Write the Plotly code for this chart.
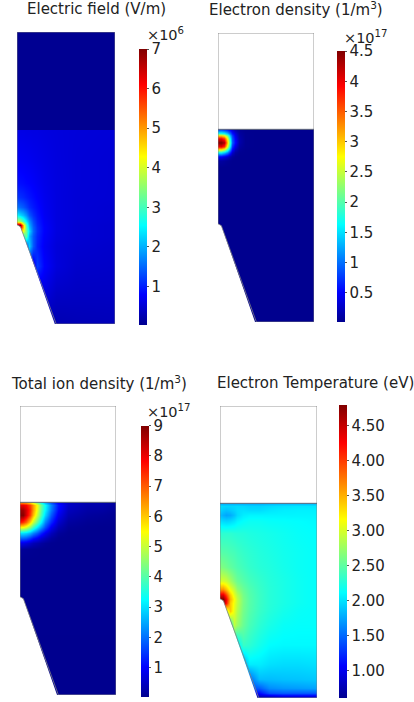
import plotly.graph_objects as go

W, H = 414, 702

titles = ["Electric field (V/m)", "Electron density (1/m<sup>3</sup>)",
          "Total ion density (1/m<sup>3</sup>)", "Electron Temperature (eV)"]
multipliers = ["×10<sup>6</sup>", "×10<sup>17</sup>", "×10<sup>17</sup>", ""]

# ---------- Electric field (x 1e6 V/m) ----------
e_x = [0, 3, 6, 9, 12, 16, 20, 28, 40, 60, 100]
e_y = [0, 30, 60, 80, 90, 96, 100, 102, 106, 112, 120, 130, 145, 170, 199.5, 200, 300]
e_z = [
    [.25, .25, .25, .25, .25, .25, .25, .25, .26, .30, .32],
    [.35, .35, .35, .35, .35, .35, .36, .55, .40, .38, .38],
    [.60, .60, .60, .60, .60, .60, 1.2, .80, .55, .44, .42],
    [2.0, 1.6, 1.4, 1.2, 2.2, 1.4, 1.0, .72, .54, .48, .44],
    [3.0, 3.0, 2.8, 3.2, 2.0, 1.4, 1.05, .76, .57, .50, .46],
    [4.5, 4.5, 4.2, 3.3, 2.3, 1.5, 1.1, .78, .58, .50, .46],
    [7.0, 6.5, 4.8, 3.2, 2.1, 1.45, 1.08, .78, .58, .50, .46],
    [7.0, 7.0, 4.8, 3.1, 2.0, 1.4, 1.05, .77, .58, .50, .46],
    [3.8, 3.6, 3.0, 2.4, 1.8, 1.3, 1.0, .75, .58, .51, .47],
    [2.5, 2.3, 2.1, 1.8, 1.4, 1.12, .93, .72, .58, .52, .48],
    [1.6, 1.5, 1.4, 1.25, 1.08, .95, .85, .70, .58, .52, .48],
    [1.15, 1.1, 1.05, .98, .92, .85, .78, .68, .58, .52, .50],
    [.88, .87, .85, .82, .80, .76, .72, .65, .58, .53, .50],
    [.72, .72, .71, .70, .69, .67, .65, .62, .57, .53, .50],
    [.62, .62, .62, .61, .61, .60, .60, .58, .56, .54, .52],
    [.05, .05, .05, .05, .05, .05, .05, .05, .05, .05, .05],
    [.05, .05, .05, .05, .05, .05, .05, .05, .05, .05, .05],
]
e_ticks = [1, 2, 3, 4, 5, 6, 7]
e_labels = ["1", "2", "3", "4", "5", "6", "7"]

# ---------- Electron density (x 1e17 1/m3) ----------
n_x = [0, 3, 6, 9, 12, 15, 18, 22, 28, 40, 100]
n_y = [0, 160, 168, 172, 176, 179, 182, 186, 191, 194, 196, 200]
n_z = [
    [.02, .02, .02, .02, .02, .02, .02, .02, .02, .02, .02],
    [.02, .02, .02, .02, .02, .02, .02, .02, .02, .02, .02],
    [.10, .10, .08, .05, .03, .02, .02, .02, .02, .02, .02],
    [.50, .50, .40, .30, .15, .08, .03, .02, .02, .02, .02],
    [1.6, 1.6, 1.4, 1.1, .65, .28, .10, .03, .02, .02, .02],
    [2.8, 2.8, 2.5, 1.9, 1.1, .55, .22, .06, .02, .02, .02],
    [3.9, 4.0, 3.7, 2.7, 1.5, .75, .38, .10, .03, .02, .02],
    [4.5, 4.5, 4.3, 3.1, 1.8, .95, .55, .15, .03, .02, .02],
    [4.0, 4.0, 3.7, 2.8, 1.6, .90, .50, .15, .03, .02, .02],
    [3.0, 3.0, 2.8, 2.2, 1.3, .80, .42, .12, .03, .02, .02],
    [1.8, 1.8, 1.7, 1.4, .95, .62, .35, .10, .03, .02, .02],
    [.80, .80, .70, .60, .45, .30, .15, .05, .02, .02, .02],
]
n_ticks = [0.5, 1, 1.5, 2, 2.5, 3, 3.5, 4, 4.5]
n_labels = ["0.5", "1", "1.5", "2", "2.5", "3", "3.5", "4", "4.5"]

# ---------- Total ion density (x 1e17 1/m3) ----------
i_x = [0, 3, 6, 10, 14, 18, 22, 26, 32, 40, 50, 70, 85, 100]
i_y = [0, 140, 152, 158, 163, 168, 175, 180, 187, 192, 197, 200]
i_z = [
    [.04, .04, .04, .04, .04, .04, .04, .04, .04, .04, .04, .04, .04, .04],
    [.05, .05, .05, .05, .05, .05, .05, .05, .05, .05, .05, .05, .05, .05],
    [.12, .12, .10, .08, .07, .06, .05, .05, .05, .05, .05, .05, .05, .05],
    [.80, .80, .70, .55, .40, .30, .20, .12, .06, .05, .05, .05, .05, .05],
    [1.9, 1.9, 1.8, 1.5, 1.2, .95, .65, .45, .20, .07, .05, .05, .05, .05],
    [3.0, 3.0, 2.9, 2.6, 2.2, 1.8, 1.3, .90, .45, .16, .06, .05, .05, .05],
    [5.6, 5.5, 5.2, 4.5, 3.8, 3.1, 2.4, 1.7, .90, .38, .12, .06, .05, .05],
    [7.7, 7.4, 6.9, 5.9, 5.0, 4.1, 3.2, 2.2, 1.35, .60, .20, .10, .08, .06],
    [9.0, 8.9, 8.2, 7.2, 6.1, 5.0, 3.9, 2.9, 1.8, .90, .35, .18, .14, .08],
    [8.8, 8.7, 8.2, 7.4, 6.4, 5.3, 4.1, 3.2, 2.1, 1.1, .45, .25, .22, .12],
    [8.0, 8.0, 7.8, 7.2, 6.4, 5.4, 4.2, 3.3, 2.2, 1.2, .55, .32, .30, .16],
    [6.2, 6.2, 6.0, 5.5, 4.9, 4.1, 3.2, 2.4, 1.6, .90, .45, .30, .28, .15],
]
i_ticks = [1, 2, 3, 4, 5, 6, 7, 8, 9]
i_labels = ["1", "2", "3", "4", "5", "6", "7", "8", "9"]

# ---------- Electron temperature (eV) ----------
t_x = [0, 3, 6, 10, 14, 18, 24, 30, 40, 50, 65, 80, 100]
t_y = [0, 2, 5, 10, 20, 35, 55, 75, 90, 98, 102, 106, 112, 120, 135, 150, 170, 182, 188, 193, 197, 200]
t_z = [
    [.70, .70, .70, .70, .70, .70, .70, .70, .70, .70, .70, .70, .70],
    [.85, .85, .85, .85, .85, .85, .85, .85, .85, .90, 1.0, 1.0, 1.0],
    [1.1, 1.1, 1.1, 1.1, 1.1, 1.1, 1.1, 1.1, 1.1, 1.4, 1.45, 1.45, 1.45],
    [1.4, 1.4, 1.4, 1.4, 1.4, 1.4, 1.4, 1.4, 1.45, 1.65, 1.7, 1.72, 1.75],
    [1.5, 1.5, 1.5, 1.5, 1.5, 1.5, 1.5, 1.5, 1.85, 1.85, 1.87, 1.88, 1.9],
    [1.7, 1.7, 1.7, 1.7, 1.7, 1.7, 1.7, 2.05, 2.05, 2.0, 1.98, 1.98, 2.0],
    [2.0, 2.0, 2.0, 2.0, 2.0, 2.0, 2.35, 2.3, 2.2, 2.12, 2.1, 2.1, 2.1],
    [2.2, 2.2, 2.2, 2.2, 2.9, 2.75, 2.55, 2.42, 2.3, 2.22, 2.15, 2.13, 2.13],
    [2.9, 2.9, 2.9, 3.4, 3.05, 2.85, 2.6, 2.47, 2.35, 2.27, 2.2, 2.15, 2.13],
    [4.2, 4.7, 4.2, 3.4, 3.1, 2.9, 2.62, 2.48, 2.36, 2.28, 2.22, 2.17, 2.13],
    [4.8, 4.8, 4.3, 3.5, 3.15, 2.9, 2.62, 2.48, 2.36, 2.28, 2.22, 2.17, 2.13],
    [4.4, 4.4, 4.0, 3.4, 3.05, 2.85, 2.6, 2.47, 2.36, 2.28, 2.22, 2.17, 2.13],
    [3.6, 3.6, 3.4, 3.1, 2.9, 2.7, 2.55, 2.45, 2.35, 2.28, 2.22, 2.17, 2.13],
    [3.0, 3.0, 2.95, 2.8, 2.65, 2.55, 2.47, 2.4, 2.33, 2.27, 2.22, 2.17, 2.13],
    [2.65, 2.62, 2.58, 2.52, 2.47, 2.43, 2.38, 2.33, 2.28, 2.25, 2.2, 2.16, 2.13],
    [2.48, 2.46, 2.45, 2.42, 2.4, 2.37, 2.33, 2.3, 2.26, 2.23, 2.19, 2.16, 2.13],
    [2.3, 2.3, 2.3, 2.3, 2.28, 2.27, 2.26, 2.24, 2.22, 2.2, 2.17, 2.14, 2.12],
    [2.0, 1.97, 1.95, 1.97, 2.02, 2.08, 2.13, 2.16, 2.16, 2.14, 2.13, 2.12, 2.1],
    [1.85, 1.8, 1.75, 1.78, 1.87, 1.97, 2.05, 2.08, 2.08, 2.08, 2.08, 2.08, 2.08],
    [1.95, 1.9, 1.87, 1.9, 1.94, 1.98, 2.0, 1.98, 1.98, 2.02, 2.05, 2.06, 2.06],
    [1.98, 1.96, 1.95, 1.95, 1.96, 1.97, 1.96, 1.94, 1.94, 1.97, 2.0, 2.02, 2.02],
    [1.75, 1.75, 1.75, 1.75, 1.75, 1.75, 1.75, 1.75, 1.75, 1.78, 1.8, 1.8, 1.8],
]
t_ticks = [1, 1.5, 2, 2.5, 3, 3.5, 4, 4.5]
t_labels = ["1.00", "1.50", "2.00", "2.50", "3.00", "3.50", "4.00", "4.50"]

# Geometry in panel units (width 100, height 300)
outline_x = [0, 0, 100, 100, 40, 3.5, 0]
outline_y = [102, 300, 300, 0, 0, 100, 102]
mask_x = [-4, 40, 3.5, 0, -4]
mask_y = [-4, -4, 100, 102, 102]
interface_y = 200

panels = [
    dict(x=e_x, y=e_y, z=e_z, ticks=e_ticks, labels=e_labels, zr=(0.03, 7.0),
         plot=(17, 115, 32, 324), bar=(139, 147, 49, 325),
         title_xy=(96.5, 9), mult_xy=(165, 34)),
    dict(x=n_x, y=n_y, z=n_z, ticks=n_ticks, labels=n_labels, zr=(0.02, 4.5),
         plot=(218, 314, 33, 322), bar=(337, 345, 51, 322),
         title_xy=(295.5, 9), mult_xy=(366, 37)),
    dict(x=i_x, y=i_y, z=i_z, ticks=i_ticks, labels=i_labels, zr=(0.04, 9.0),
         plot=(20, 116, 406, 695), bar=(141, 149, 425.7, 696.7),
         title_xy=(98.5, 383), mult_xy=(169, 411)),
    dict(x=t_x, y=t_y, z=t_z, ticks=t_ticks, labels=t_labels, zr=(0.61, 4.8),
         plot=(220, 317, 406, 698), bar=(339, 347, 405, 698),
         title_xy=(315, 383), mult_xy=None),
]

jet = [[0, "#00008f"], [.11, "#0000ff"], [.36, "#00ffff"],
       [.61, "#ffff00"], [.87, "#ff0000"], [1, "#800000"]]
FONT = "DejaVu Sans"
TXT = "#222222"
EDGE = "#808080"

fig = go.Figure()
layout = dict(width=W, height=H, margin=dict(l=0, r=0, t=0, b=0), autosize=False,
              paper_bgcolor="white", plot_bgcolor="white", showlegend=False,
              font=dict(family=FONT, color=TXT, size=15))
shapes, annos = [], []

for k, p in enumerate(panels):
    n = "" if k == 0 else str(k + 1)
    l, r, t, b = p["plot"]
    bl, br, bt, bb = p["bar"]
    fig.add_trace(go.Heatmap(
        x=p["x"], y=p["y"], z=p["z"], xaxis="x" + n, yaxis="y" + n,
        zsmooth="best", colorscale=jet, zmin=p["zr"][0], zmax=p["zr"][1], hoverinfo="skip",
        colorbar=dict(x=bl / W, xanchor="left", xpad=0, ypad=0,
                      y=1 - bb / H, yanchor="bottom", len=(bb - bt) / H, lenmode="fraction",
                      thickness=br - bl, thicknessmode="pixels", outlinewidth=0,
                      tickmode="array", tickvals=p["ticks"], ticktext=p["labels"],
                      ticks="outside", ticklen=2, tickcolor="#555555",
                      tickfont=dict(family=FONT, size=15, color=TXT)),
    ))
    layout["xaxis" + n] = dict(domain=[l / W, r / W], range=[0, 100], visible=False, fixedrange=True)
    layout["yaxis" + n] = dict(domain=[1 - b / H, 1 - t / H], range=[0, 300], visible=False, fixedrange=True)
    xr, yr = "x" + n, "y" + n
    mask = "M " + " L ".join(f"{a},{c}" for a, c in zip(mask_x, mask_y)) + " Z"
    shapes.append(dict(type="path", path=mask, xref=xr, yref=yr, fillcolor="white",
                       line=dict(width=0), layer="above"))
    if k > 0:
        shapes.append(dict(type="rect", x0=-4, x1=104, y0=interface_y, y1=304, xref=xr, yref=yr,
                           fillcolor="white", line=dict(width=0), layer="above"))
    edge = "M " + " L ".join(f"{a},{c}" for a, c in zip(outline_x, outline_y))
    shapes.append(dict(type="path", path=edge, xref=xr, yref=yr,
                       line=dict(color=EDGE, width=0.8), layer="above"))
    if k > 0:
        shapes.append(dict(type="line", x0=0, x1=100, y0=interface_y, y1=interface_y, xref=xr, yref=yr,
                           line=dict(color="#606878", width=1), layer="above"))
    tx, ty = p["title_xy"]
    annos.append(dict(text=titles[k], x=tx / W, y=1 - ty / H, xref="paper", yref="paper",
                      showarrow=False, xanchor="center", yanchor="middle",
                      font=dict(family=FONT, size=15, color=TXT)))
    if p["mult_xy"]:
        mx, my = p["mult_xy"]
        annos.append(dict(text=multipliers[k], x=mx / W, y=1 - my / H, xref="paper", yref="paper",
                          showarrow=False, xanchor="center", yanchor="middle",
                          font=dict(family=FONT, size=14.5, color=TXT)))

layout["shapes"] = shapes
layout["annotations"] = annos
fig.update_layout(**layout)
fig.write_html("out.html", config=dict(displayModeBar=False),
               post_script="document.body.style.margin='0';")
